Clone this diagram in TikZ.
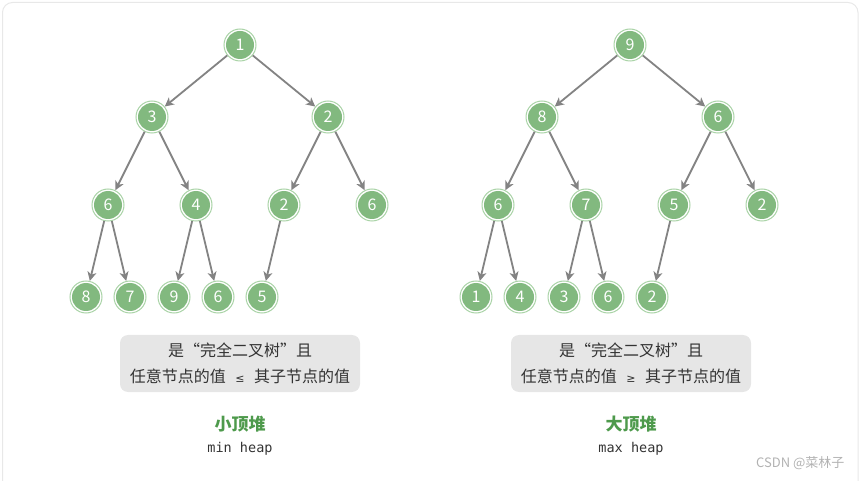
\documentclass[tikz,border=0pt]{standalone}
\usepackage{fontspec}
\setmainfont{Noto Sans CJK SC}
\setmonofont{DejaVu Sans Mono}
\newfontfamily\symfont{DejaVu Sans}
\usetikzlibrary{arrows, arrows.meta}
\definecolor{heapgreen}{HTML}{82B97F}
\definecolor{ringgreen}{HTML}{A9D3A6}
\definecolor{edgegray}{HTML}{838383}
\definecolor{boxgray}{HTML}{E6E6E6}
\definecolor{framegray}{HTML}{E8E8E8}
\definecolor{titlegreen}{HTML}{4E9A4C}
\tikzstyle{heapnode} = [circle, minimum size=32pt, inner sep=0pt, draw=ringgreen, line width=1pt, fill=white, path picture={\fill[heapgreen] (path picture bounding box.center) circle (14pt);}, text=white, font=\fontsize{16}{16}\selectfont]
\tikzstyle{edge} = [line width=1.8pt, ->, >={Stealth[length=9pt, width=9pt, inset=2.5pt]}, draw=edgegray]
\tikzstyle{rulebox} = [rectangle, rounded corners=8pt, minimum width=240pt, minimum height=57pt, fill=boxgray, align=center, text=black!80, font=\fontsize{16}{26}\selectfont]
\tikzstyle{heaptitle} = [text=titlegreen, font=\fontsize{17}{17}\selectfont\bfseries]
\tikzstyle{heapcaption} = [text=black!80, font=\ttfamily\fontsize{13.5}{13.5}\selectfont]
\newcommand{\relsym}[1]{\hspace{0.6em}{\symfont\fontsize{11}{11}\selectfont #1}\hspace{0.6em}}

\begin{document}
\begin{tikzpicture}[x=1pt, y=-1pt]

\useasboundingbox (0,0) rectangle (863,481);
\draw [framegray, line width=1pt, rounded corners=10pt] (2.5,2.5) rectangle (858,520);

% min heap
\node (a0) [heapnode] at (240,45) {1};
\node (a1) [heapnode] at (152,117) {3};
\node (a2) [heapnode] at (328,117) {2};
\node (a3) [heapnode] at (108,205) {6};
\node (a4) [heapnode] at (196,205) {4};
\node (a5) [heapnode] at (284,205) {2};
\node (a6) [heapnode] at (372,205) {6};
\node (a7) [heapnode] at (86,297) {8};
\node (a8) [heapnode] at (130,297) {7};
\node (a9) [heapnode] at (174,297) {9};
\node (a10) [heapnode] at (218,297) {6};
\node (a11) [heapnode] at (262,297) {5};

\draw [edge] (a0) -- (a1);
\draw [edge] (a0) -- (a2);
\draw [edge] (a1) -- (a3);
\draw [edge] (a1) -- (a4);
\draw [edge] (a2) -- (a5);
\draw [edge] (a2) -- (a6);
\draw [edge] (a3) -- (a7);
\draw [edge] (a3) -- (a8);
\draw [edge] (a4) -- (a9);
\draw [edge] (a4) -- (a10);
\draw [edge] (a5) -- (a11);

\node (arule) [rulebox] at (240,363.5) {是“完全二叉树”且\\任意节点的值\relsym{≤}其子节点的值};
\node (atitle) [heaptitle] at (240,424) {小顶堆};
\node (acap) [heapcaption] at (240,449) {min heap};

% max heap
\node (b0) [heapnode] at (630,45) {9};
\node (b1) [heapnode] at (542,117) {8};
\node (b2) [heapnode] at (718,117) {6};
\node (b3) [heapnode] at (498,205) {6};
\node (b4) [heapnode] at (586,205) {7};
\node (b5) [heapnode] at (674,205) {5};
\node (b6) [heapnode] at (762,205) {2};
\node (b7) [heapnode] at (476,297) {1};
\node (b8) [heapnode] at (520,297) {4};
\node (b9) [heapnode] at (564,297) {3};
\node (b10) [heapnode] at (608,297) {6};
\node (b11) [heapnode] at (652,297) {2};

\draw [edge] (b0) -- (b1);
\draw [edge] (b0) -- (b2);
\draw [edge] (b1) -- (b3);
\draw [edge] (b1) -- (b4);
\draw [edge] (b2) -- (b5);
\draw [edge] (b2) -- (b6);
\draw [edge] (b3) -- (b7);
\draw [edge] (b3) -- (b8);
\draw [edge] (b4) -- (b9);
\draw [edge] (b4) -- (b10);
\draw [edge] (b5) -- (b11);

\node (brule) [rulebox] at (631,363.5) {是“完全二叉树”且\\任意节点的值\relsym{≥}其子节点的值};
\node (btitle) [heaptitle] at (631,424) {大顶堆};
\node (bcap) [heapcaption] at (631,449) {max heap};

\node (mark) [anchor=east, text=black!30, font=\fontsize{13}{13}\selectfont] at (848,463) {CSDN @菜林子};

\end{tikzpicture}
\end{document}
